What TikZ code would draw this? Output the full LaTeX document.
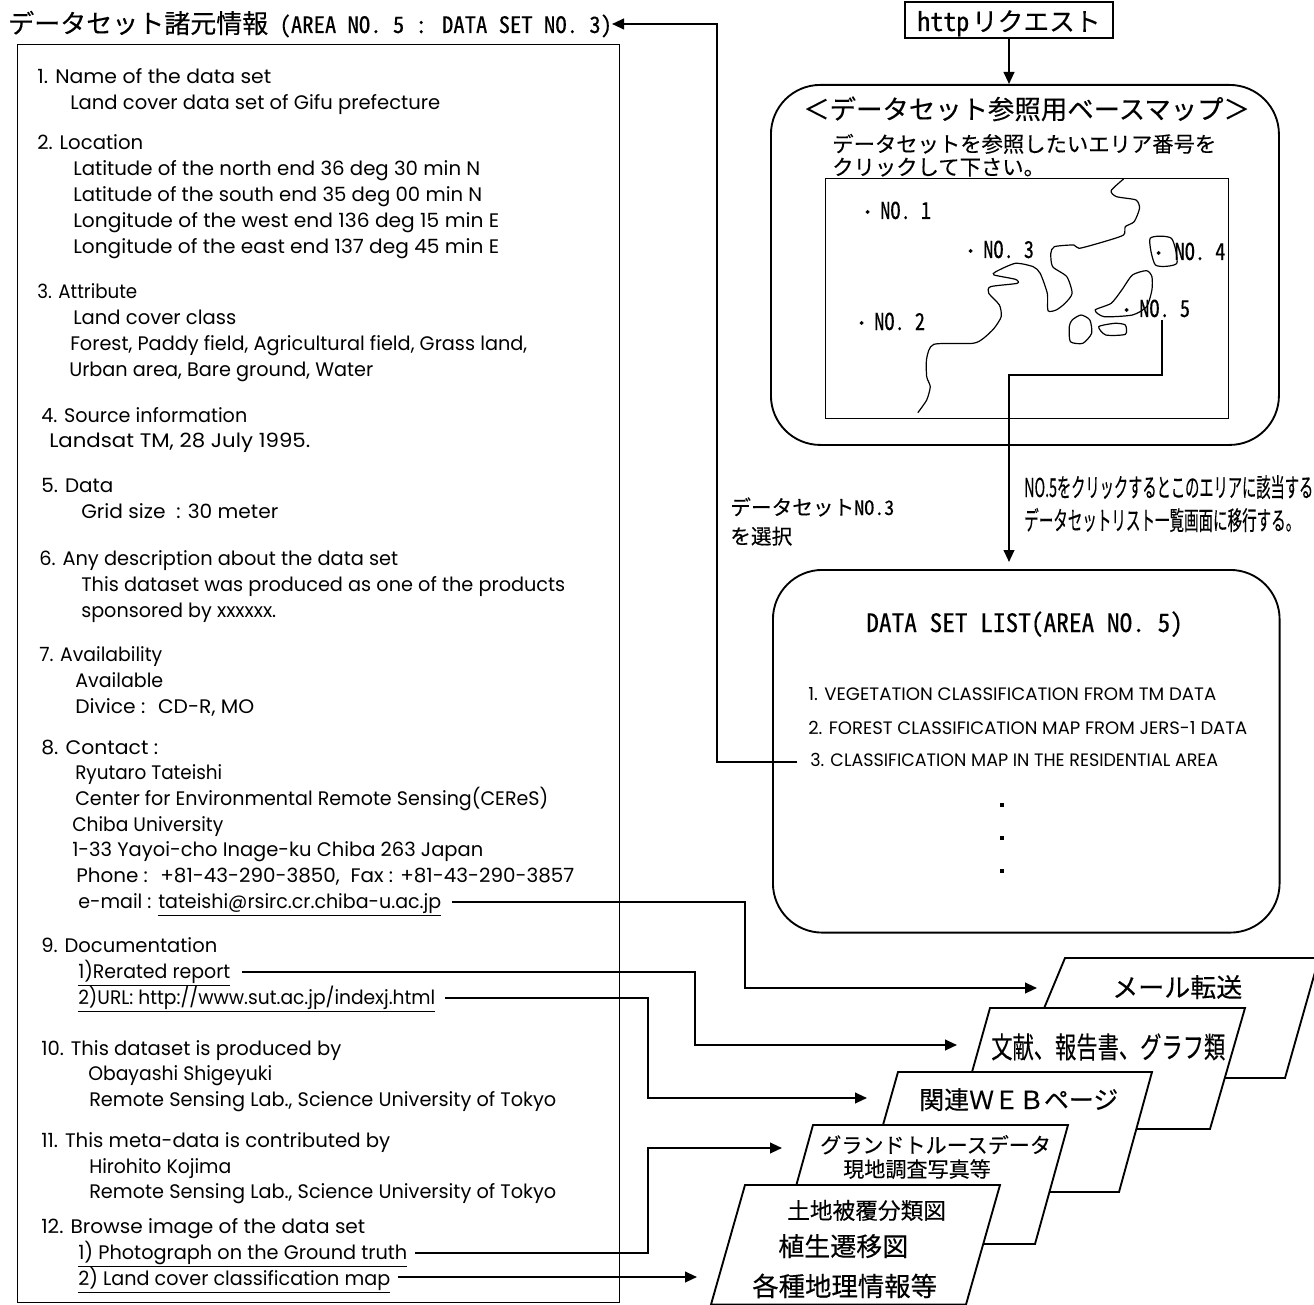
\documentclass[tikz,border=0pt]{standalone}
\usepackage{fontspec}
\usepackage{graphicx}
\usetikzlibrary{arrows.meta}
\setmainfont{Poppins}
\newfontfamily\cjk[FakeBold=0.25]{Noto Sans CJK JP}
\newfontfamily\hwf[RawFeature=+hwid,FakeBold=0.25]{Noto Sans CJK JP}
\newcommand{\sz}[1]{\fontsize{#1}{#1}\selectfont}
\newcommand{\jp}[2]{{\cjk\sz{#1}#2}}
\newcommand{\hw}[2]{{\hwf\sz{#1}#2}}
\newsavebox{\fitbox}
% set #2 and stretch it horizontally to a width of #1 pixels
\newcommand{\fitw}[2]{\sbox{\fitbox}{#2}\pgfmathsetmacro{\fitr}{#1*0.75/\the\wd\fitbox}\scalebox{\fitr}[1]{\usebox{\fitbox}}}
\newcommand{\nolab}[1]{\hw{17.5}{\scalebox{0.87}[1]{NO. #1}}}
\tikzset{
  x=0.75pt,y=-0.75pt,
  ln/.style={anchor=base west,inner sep=0pt,font=\sz{14.7}},
  tx/.style={anchor=base west,inner sep=0pt},
  conn/.style={line width=1.5pt,-{Triangle[length=9pt,width=8pt]}},
  para/.style={draw,fill=white,line width=1.4pt,line join=miter},
  coast/.style={line width=0.9pt,smooth,tension=0.4},
}
\begin{document}
\begin{tikzpicture}
\useasboundingbox (0,0) rectangle (1314,1305);
% left panel
\node[draw,line width=1.1pt,anchor=north west,minimum width=451.5pt,minimum height=943.5pt,inner sep=0pt] (panel) at (17,44) {};
\node[tx] (title) at (8,33) {\jp{19.5}{データセット諸元情報}\hw{17}{ (AREA NO. 5 : DATA SET NO. 3)}};
\node[ln] (a1) at (37,84) {\fitw{234}{1. Name of the data set}};
\node[ln] (a2) at (70,110) {\fitw{370}{Land cover data set of Gifu prefecture}};
\node[ln] (b1) at (37,150) {\fitw{106}{2. Location}};
\node[ln] (b2) at (73,176) {\fitw{407}{Latitude of the north end 36 deg 30 min N}};
\node[ln] (b3) at (73,202) {\fitw{409}{Latitude of the south end 35 deg 00 min N}};
\node[ln] (b4) at (73,228) {\fitw{426}{Longitude of the west end 136 deg 15 min E}};
\node[ln] (b5) at (73,254) {\fitw{426}{Longitude of the east end 137 deg 45 min E}};
\node[ln] (c1) at (37,299) {\fitw{100}{3. Attribute}};
\node[ln] (c2) at (73,325) {\fitw{163}{Land cover class}};
\node[ln] (c3) at (70,350) {\fitw{457}{Forest, Paddy field, Agricultural field, Grass land,}};
\node[ln] (c4) at (69,376) {\fitw{304}{Urban area, Bare ground, Water}};
\node[ln] (d1) at (41,422) {\fitw{206}{4. Source information}};
\node[ln] (d2) at (49,447) {\fitw{261}{Landsat TM, 28 July 1995.}};
\node[ln] (e1) at (41,492) {\fitw{72}{5. Data}};
\node[ln] (e2) at (81,518) {\fitw{197}{Grid size~ : 30 meter}};
\node[ln] (f1) at (39,565) {\fitw{359}{6. Any description about the data set}};
\node[ln] (f2) at (81,591) {\fitw{484}{This dataset was produced as one of the products}};
\node[ln] (f3) at (81,617) {\fitw{195}{sponsored by xxxxxx.}};
\node[ln] (g1) at (39,661) {\fitw{123}{7. Availability}};
\node[ln] (g2) at (75,687) {\fitw{88}{Available}};
\node[ln] (g3) at (75,713) {\fitw{179}{Divice :~ CD-R, MO}};
\node[ln] (h1) at (41,754) {\fitw{117}{8. Contact :}};
\node[ln] (h2) at (75,779) {\fitw{147}{Ryutaro Tateishi}};
\node[ln] (h3) at (75,805) {\fitw{473}{Center for Environmental Remote Sensing(CEReS)}};
\node[ln] (h4) at (72,831) {\fitw{151}{Chiba University}};
\node[ln] (h5) at (72,856) {\fitw{411}{1-33 Yayoi-cho Inage-ku Chiba 263 Japan}};
\node[ln] (h6) at (76,882) {\fitw{498}{Phone :~ +81-43-290-3850,~ Fax : +81-43-290-3857}};
\node[ln] (h7) at (78,908) {\fitw{363}{e-mail : \underline{tateishi@rsirc.cr.chiba-u.ac.jp}}};
\node[ln] (i1) at (41,952) {\fitw{176}{9. Documentation}};
\node[ln] (i2) at (78,978) {\fitw{152}{\underline{1)Rerated report}}};
\node[ln] (i3) at (78,1004) {\fitw{357}{\underline{2)URL: http://www.sut.ac.jp/indexj.html}}};
\node[ln] (j1) at (41,1055) {\fitw{300}{10. This dataset is produced by}};
\node[ln] (j2) at (88,1080) {\fitw{184}{Obayashi Shigeyuki}};
\node[ln] (j3) at (89,1106) {\fitw{467}{Remote Sensing Lab., Science University of Tokyo}};
\node[ln] (k1) at (41,1147) {\fitw{349}{11. This meta-data is contributed by}};
\node[ln] (k2) at (89,1173) {\fitw{142}{Hirohito Kojima}};
\node[ln] (k3) at (89,1198) {\fitw{467}{Remote Sensing Lab., Science University of Tokyo}};
\node[ln] (l1) at (41,1233) {\fitw{324}{12. Browse image of the data set}};
\node[ln] (l2) at (78,1259) {\fitw{329}{\underline{1) Photograph on the Ground truth}}};
\node[ln] (l3) at (78,1285) {\fitw{312}{\underline{2) Land cover classification map}}};
% base map box
\node[draw,line width=1.4pt,rounded corners=37pt,anchor=north west,minimum width=381pt,minimum height=270pt,inner sep=0pt] (basebox) at (770,84) {};
\node[draw,line width=0.9pt,anchor=north west,minimum width=302pt,minimum height=180pt,inner sep=0pt] (mapbox) at (825,178) {};
\node[draw,line width=0.9pt,anchor=center,minimum width=156pt,minimum height=27pt,inner sep=0pt] (http) at (1009,20) {};
\node[tx] (httpt) at (917,31) {\hw{19.5}{http}\hspace{2pt}\jp{19.3}{リクエスト}};
\node[tx] (bt) at (803,119) {\jp{19.8}{＜データセット参照用ベースマップ＞}};
\node[tx] (bs1) at (832,152) {\jp{16}{データセットを参照したいエリア番号を}};
\node[tx] (bs2) at (832,175) {\jp{16}{クリックして下さい。}};
% coast lines
\begin{scope}[shift={(760,0)},x=0.266pt,y=-0.25pt]
\draw[coast] plot coordinates {(1025,537)(990,572)(1005,590)(1060,600)(1070,625)(1055,665)(1030,680)(1025,705)(970,725)(900,745)(885,735)(830,740)(820,760)(825,800)(865,830)(880,880)(860,910)(835,930)(812,932)(810,880)(790,820)(770,800)(720,790)(665,815)(660,825)(720,838)(725,850)(650,860)(645,880)(675,915)(680,950)(660,985)(630,1015)(600,1030)(490,1033)(470,1075)(470,1130)(480,1160)(470,1200)(445,1238)};
\draw[coast] plot[smooth cycle] coordinates {(1100,715)(1160,715)(1175,790)(1115,795)};
\draw[coast] plot[smooth cycle] coordinates {(1050,825)(1090,812)(1105,830)(1105,870)(1090,920)(1050,945)(970,950)(945,930)(990,910)(1020,870)};
\draw[coast] plot[smooth cycle] coordinates {(880,960)(905,945)(930,960)(935,1000)(910,1030)(875,1025)(872,980)};
\draw[coast] plot[smooth cycle] coordinates {(955,980)(1000,970)(1030,975)(1030,1003)(975,1005)};
\end{scope}
\node[tx] (n1) at (858,219) {\jp{14}{・}\hspace{2.5pt}\nolab{1}};
\node[tx] (n3) at (961,258) {\jp{14}{・}\hspace{2.5pt}\nolab{3}};
\node[tx] (n2) at (852,330) {\jp{14}{・}\hspace{2.5pt}\nolab{2}};
\node[tx] (n4) at (1149,260) {\jp{14}{・}\hspace{5pt}\nolab{4}};
\node[tx] (n5) at (1117,317) {\jp{14}{・}\hspace{2.5pt}\nolab{5}};
% list box
\node[draw,line width=1.4pt,rounded corners=37pt,anchor=north west,minimum width=380pt,minimum height=272pt,inner sep=0pt] (listbox) at (772,569) {};
\node[tx] (lt) at (866,632) {\hw{19}{DATA SET LIST(AREA NO. 5)}};
\node[tx] (q1) at (808,700) {\sz{13.5}\fitw{408}{1. VEGETATION CLASSIFICATION FROM TM DATA}};
\node[tx] (q2) at (808,734) {\sz{13.5}\fitw{439}{2. FOREST CLASSIFICATION MAP FROM JERS-1 DATA}};
\node[tx] (q3) at (810,766) {\sz{13.5}\fitw{408}{3. CLASSIFICATION MAP IN THE RESIDENTIAL AREA}};
\node[fill,inner sep=0pt,minimum size=3.6pt] (s1) at (1002,805) {};
\node[fill,inner sep=0pt,minimum size=3.6pt] (s2) at (1002,838) {};
\node[fill,inner sep=0pt,minimum size=3.6pt] (s3) at (1002,871) {};
% side notes
\node[tx] (sel1) at (730,515) {\jp{15.5}{データセット}\hw{15}{NO.3}};
\node[tx] (sel2) at (730,544) {\jp{15.5}{を選択}};
\node[tx] (go1) at (1024,497) {\fitw{289}{\jp{19.5}{NO.5をクリックするとこのエリアに該当する}}};
\node[tx] (go2) at (1024,530) {\fitw{276}{\jp{19.5}{データセットリスト一覧画面に移行する。}}};
% stacked sheets
\path[para] (1065,958) -- (1319,958) -- (1285,1078) -- (1015,1078) -- cycle;
\node[tx] (p1) at (1112,997) {\jp{19.5}{メール転送}};
\path[para] (990,1008) -- (1245,1008) -- (1210,1129) -- (956,1129) -- cycle;
\node[tx] (p2) at (991,1058) {\fitw{234}{\jp{22}{文献、報告書、グラフ類}}};
\path[para] (898,1072) -- (1152,1072) -- (1119,1192) -- (864,1192) -- cycle;
\node[tx] (p3) at (919,1109) {\jp{18.7}{関連ＷＥＢページ}};
\path[para] (813,1125) -- (1068,1125) -- (1035,1244) -- (780,1244) -- cycle;
\node[tx] (p4) at (820,1153) {\jp{15.8}{グランドトルースデータ}};
\node[tx] (p5) at (843,1177) {\jp{15.8}{現地調査写真等}};
\path[para] (745,1185) -- (1000,1185) -- (966,1304.5) -- (711,1304.5) -- cycle;
\node[tx] (p6) at (787,1219) {\jp{17}{土地被覆分類図}};
\node[tx] (p7) at (778,1256) {\jp{19.5}{植生遷移図}};
\node[tx] (p8) at (752,1296) {\jp{19.8}{各種地理情報等}};
% named end points
\coordinate (tMail) at (1037,988);
\coordinate (tDoc) at (957,1045);
\coordinate (tWeb) at (867,1098);
\coordinate (tGround) at (782,1148);
\coordinate (tLand) at (697,1277);
\coordinate (tTitle) at (612,24);
\coordinate (tList) at (1009,562);
\coordinate (no5) at (1162,320);
\coordinate (itemEnd) at (797,762);
% connectors
\draw[conn] (http.south) -- (http.south |- basebox.north);
\draw[conn] (no5) -- (1162,375) -- (1009,375) -- (tList);
\draw[conn] (itemEnd) -- (717,762) -- (717,24) -- (tTitle);
\draw[conn] (452,902) -- (745,902) -- (745,988) -- (tMail);
\draw[conn] (242,972) -- (695,972) -- (695,1045) -- (tDoc);
\draw[conn] (445,998) -- (648,998) -- (648,1098) -- (tWeb);
\draw[conn] (415,1253) -- (648,1253) -- (648,1148) -- (tGround);
\draw[conn] (398,1277) -- (tLand);
\end{tikzpicture}
\end{document}
